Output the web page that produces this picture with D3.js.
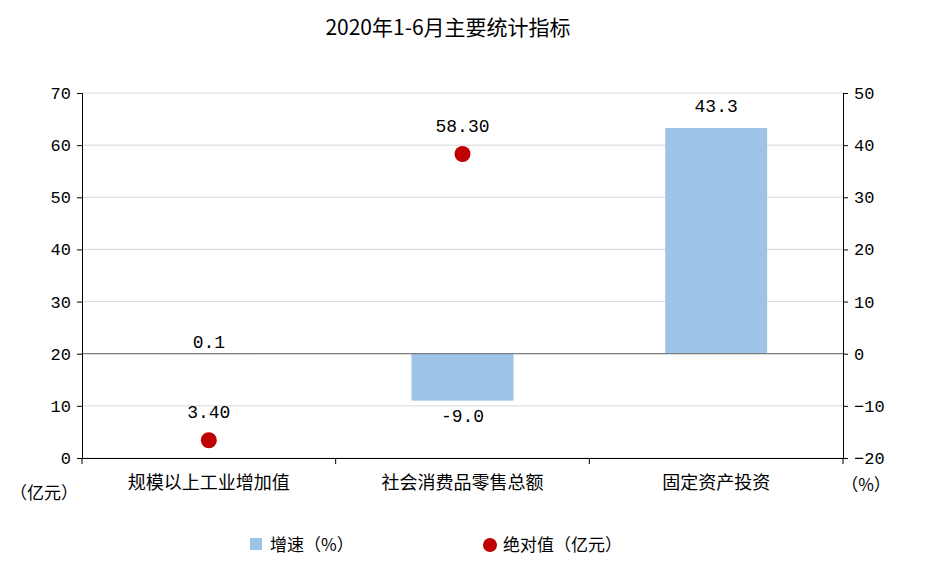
<!DOCTYPE html>
<html><head><meta charset="utf-8">
<script src="https://cdn.jsdelivr.net/npm/d3@7"></script>
<style>body{margin:0;background:#fff}svg{font-family:"Noto Sans CJK SC",sans-serif}text{fill:#000}</style>
</head><body><svg id="c" width="929" height="569"></svg>
<script>
const categories=["规模以上工业增加值","社会消费品零售总额","固定资产投资"];
const growth=[0.1,-9.0,43.3];
const growthLabels=["0.1","-9.0","43.3"];
const absValues=[3.40,58.30,null];
const absLabels=["3.40","58.30",""];
const leftTicks=[0,10,20,30,40,50,60,70];
const rightTicks=[-20,-10,0,10,20,30,40,50];

const svg=d3.select("#c");
const L=82,R=843,T=93,B=458;
const x=d3.scaleBand().domain(categories).range([L,R]);
const yl=d3.scaleLinear().domain([0,70]).range([B,T]);
const yr=d3.scaleLinear().domain([-20,50]).range([B,T]);
const num='"Liberation Mono","DejaVu Sans Mono",monospace';
const cjk='"Noto Sans CJK SC",sans-serif';

svg.append("text").attr("x",448).attr("y",35).attr("text-anchor","middle").style("font-size","21px").style("font-family",cjk).text("2020年1-6月主要统计指标");

svg.append("g").selectAll("line").data(leftTicks).join("line")
 .attr("x1",L).attr("x2",R).attr("y1",d=>yl(d)).attr("y2",d=>yl(d)).attr("stroke","#d9d9d9");

const bw=102;
svg.append("g").selectAll("rect").data(growth).join("rect")
 .attr("x",(d,i)=>x(categories[i])+x.bandwidth()/2-bw/2).attr("width",bw)
 .attr("y",d=>yr(Math.max(0,d))).attr("height",d=>Math.max(1,Math.abs(yr(d)-yr(0))))
 .attr("fill","#9dc3e6");

svg.append("line").attr("x1",L).attr("x2",R).attr("y1",yr(0)).attr("y2",yr(0)).attr("stroke","#808080").attr("stroke-width",1.2);

const ga=svg.append("g").attr("transform",`translate(${L},0)`).call(d3.axisLeft(yl).tickValues(leftTicks).tickSize(5).tickPadding(6));
const gr=svg.append("g").attr("transform",`translate(${R},0)`).call(d3.axisRight(yr).tickValues(rightTicks).tickSize(5).tickPadding(6));
const gb=svg.append("g").attr("transform",`translate(0,${B})`).call(d3.axisBottom(x).tickSize(0).tickPadding(18));
gb.select(".domain").attr("stroke","#000");
[ga,gr].forEach(g=>{g.selectAll("text").style("font-size","17px").style("font-family",num);g.select(".domain").attr("stroke","#000");});
gb.selectAll("text").style("font-size","18px").style("font-family",cjk);
svg.append("g").selectAll("line").data([L,...categories.map(c=>x(c)+x.bandwidth())]).join("line")
 .attr("x1",d=>d).attr("x2",d=>d).attr("y1",B).attr("y2",B+6).attr("stroke","#000");

svg.append("text").attr("x",44).attr("y",499).attr("text-anchor","middle").style("font-size","17px").text("（亿元）");
svg.append("text").attr("x",866).attr("y",491).attr("text-anchor","middle").style("font-size","17px").text("（%）");

svg.append("g").selectAll("text").data(growth).join("text")
 .attr("x",(d,i)=>x(categories[i])+x.bandwidth()/2)
 .attr("y",d=>d>=0?yr(d)-(d>1?16:5):yr(d)+21).attr("text-anchor","middle").style("font-size","18px").style("font-family",num)
 .text((d,i)=>growthLabels[i]);

const pts=absValues.map((v,i)=>({v,i})).filter(d=>d.v!=null);
svg.append("g").selectAll("circle").data(pts).join("circle")
 .attr("cx",d=>x(categories[d.i])+x.bandwidth()/2).attr("cy",d=>yl(d.v)).attr("r",8).attr("fill","#c00000");
svg.append("g").selectAll("text").data(pts).join("text")
 .attr("x",d=>x(categories[d.i])+x.bandwidth()/2).attr("y",d=>yl(d.v)-22).attr("text-anchor","middle")
 .style("font-size","18px").style("font-family",num).text(d=>absLabels[d.i]);

svg.append("rect").attr("x",250).attr("y",538).attr("width",12).attr("height",12).attr("fill","#9dc3e6");
svg.append("text").attr("x",270).attr("y",551).style("font-size","17px").text("增速（%）");
svg.append("circle").attr("cx",490).attr("cy",545).attr("r",7).attr("fill","#c00000");
svg.append("text").attr("x",503).attr("y",551).style("font-size","17px").text("绝对值（亿元）");
</script></body></html>
